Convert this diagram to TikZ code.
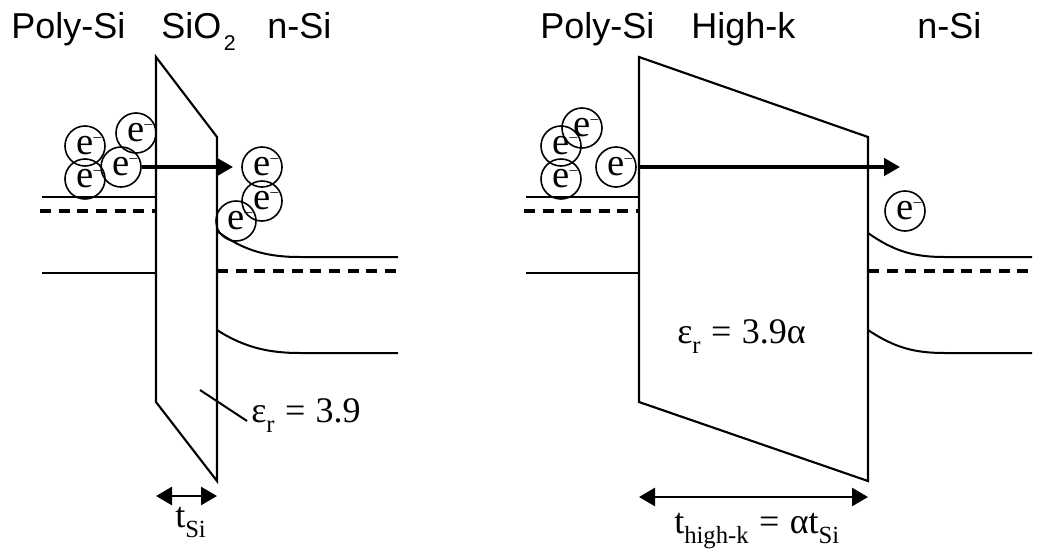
\documentclass[tikz,border=0pt]{standalone}
\usepackage{fontspec}
\setmainfont{Liberation Serif}
\setsansfont{Liberation Sans}
\usetikzlibrary{arrows.meta}
\newcommand{\elec}{e\rlap{\raisebox{10pt}{\fontsize{11.5}{11.5}\selectfont –}}}
\newcommand{\lowr}[1]{\raisebox{-0.28em}{\fontsize{18.5}{18.5}\selectfont #1}}
\newcommand{\eqs}{\hspace{0.04em} = \hspace{0.04em}}
\tikzset{
  electron/.style={circle,draw,line width=1.2pt,minimum size=30pt,inner sep=0pt,font=\fontsize{29}{29}\selectfont},
  layer/.style={anchor=base west,inner sep=0pt,font=\sffamily\fontsize{27}{27}\selectfont},
  value/.style={anchor=base west,inner sep=0pt,font=\fontsize{27}{27}\selectfont},
  barrier/.style={line width=1.6pt,line join=miter},
  band/.style={line width=1.5pt},
  fermi/.style={line width=2.7pt,dash pattern=on 8.25pt off 5.75pt},
  flow/.style={line width=2.7pt,-{Triangle[length=12pt,width=13pt]}},
  span/.style={line width=2pt,{Triangle[length=12pt,width=13.5pt]}-{Triangle[length=12pt,width=13.5pt]}}
}
\begin{document}
\begin{tikzpicture}[x=0.75pt,y=-0.75pt]
  \useasboundingbox (0,0) rectangle (1042,550);
  % SiO2 stack
  \node[layer] (polyA) at (11,38) {Poly-Si};
  \node[layer] (oxide) at (161,38) {SiO\hspace{2pt}\raisebox{-9pt}{\fontsize{16}{16}\selectfont 2}};
  \node[layer] (siA) at (267,38) {n-Si};
  \draw[barrier] (156,57)--(217,137)--(217,481)--(156,402)--cycle;
  \coordinate (fermiAl) at (40,211); \coordinate (fermiAm) at (156,211);
  \coordinate (fermiAr) at (217,271); \coordinate (fermiAe) at (398,271);
  \draw[band] (42,197)--(156,197);
  \draw[fermi] (fermiAl)--(fermiAm);
  \draw[band] (42,273)--(156,273);
  \draw[band] (217,231) .. controls (245,252) and (270,257) .. (300,257)--(398,257);
  \draw[fermi] (fermiAr)--(fermiAe);
  \draw[band] (217,330) .. controls (245,348) and (270,353) .. (300,353)--(398,353);
  \node[electron] (a1) at (85,146) {\elec};
  \node[electron] (a2) at (85,179) {\elec};
  \node[electron] (a3) at (121,167) {\elec};
  \node[electron] (a4) at (136,133) {\elec};
  \node[electron] (a5) at (262,167) {\elec};
  \node[electron] (a6) at (262,201) {\elec};
  \node[electron] (a7) at (236,221) {\elec};
  \coordinate (flowA) at (233,167);
  \draw[flow] (a3.east)--(flowA);
  % label with its leader
  \node[value] (epsA) at (251,422) {ε\lowr{r}\eqs 3.9};
  \coordinate (leadA) at (200,390);
  \draw[band] (leadA)--(247,421);
  \coordinate (spanAl) at (156,496); \coordinate (spanAr) at (217,496);
  \draw[span] (spanAl)--(spanAr);
  \node[value] (thickA) at (175,527) {t\lowr{Si}};
  % high-k stack
  \node[layer] (polyB) at (540,38) {Poly-Si};
  \node[layer] (highk) at (691,38) {High-k};
  \node[layer] (siB) at (917,38) {n-Si};
  \draw[barrier] (639,57)--(868,137)--(868,481)--(639,402)--cycle;
  \coordinate (fermiBl) at (524,211); \coordinate (fermiBm) at (639,211);
  \coordinate (fermiBr) at (868,271); \coordinate (fermiBe) at (1032,271);
  \draw[band] (526,197)--(639,197);
  \draw[fermi] (fermiBl)--(fermiBm);
  \draw[band] (526,273)--(639,273);
  \draw[band] (868,233) .. controls (895,252) and (915,257) .. (945,257)--(1032,257);
  \draw[fermi] (fermiBr)--(fermiBe);
  \draw[band] (868,330) .. controls (895,348) and (915,353) .. (945,353)--(1032,353);
  \node[electron] (b1) at (582,128) {\elec};
  \node[electron] (b2) at (561,146) {\elec};
  \node[electron] (b3) at (561,179) {\elec};
  \node[electron] (b4) at (616,167) {\elec};
  \node[electron] (b5) at (905,211) {\elec};
  \coordinate (flowBs) at (639,167); \coordinate (flowB) at (900,167);
  \draw[flow] (flowBs)--(flowB);
  \node[value] (epsB) at (677,343) {ε\lowr{r}\eqs 3.9α};
  \coordinate (spanBl) at (639,497); \coordinate (spanBr) at (868,497);
  \draw[span] (spanBl)--(spanBr);
  \node[value] (thickB) at (674,533) {t\lowr{high-k}\eqs αt\lowr{Si}};
\end{tikzpicture}
\end{document}
